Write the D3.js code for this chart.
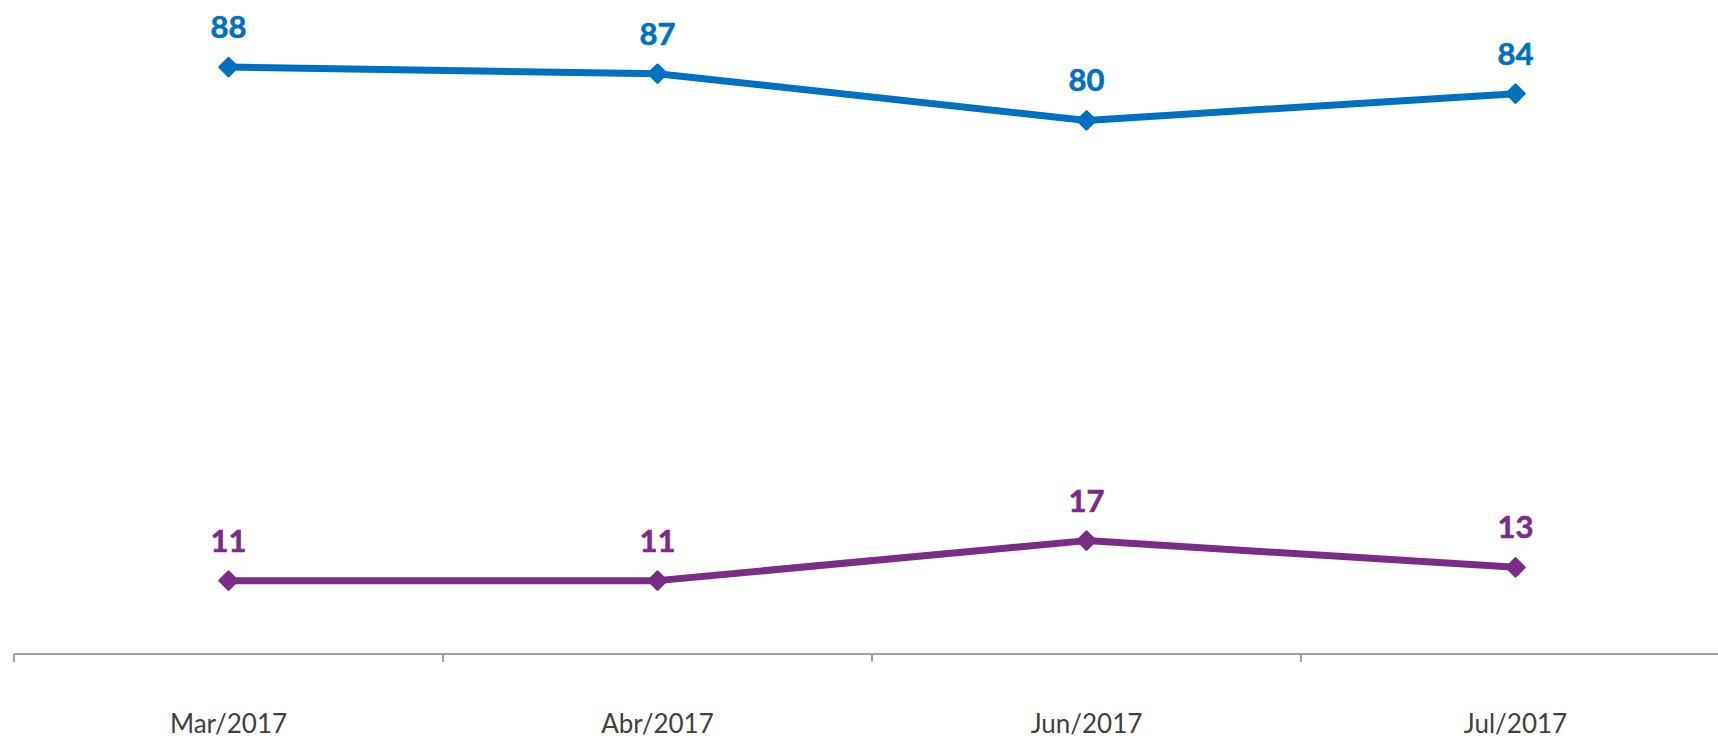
<!DOCTYPE html>
<html lang="pt">
<head>
<meta charset="utf-8">
<title>Chart</title>
<script src="https://cdn.jsdelivr.net/npm/d3@7"></script>
<style>
  html, body { margin: 0; padding: 0; background: #fff; }
  svg { display: block; }
</style>
</head>
<body>
<script>
var categories = ["Mar/2017", "Abr/2017", "Jun/2017", "Jul/2017"];
var seriesBlue = [88, 87, 80, 84];
var seriesPurple = [11, 11, 17, 13];

var W = 1718, H = 740;
var svg = d3.select("body").append("svg").attr("width", W).attr("height", H);

// band scale: 4 bands of ~429px starting at x=14 (axis runs past the right edge)
var x = d3.scaleBand().domain(categories).range([14, 14 + 4 * 429]).padding(0);
var y = d3.scaleLinear().domain([0, 100]).range([654, -13]);

var series = [
  {values: seriesBlue, color: "#0070C0"},
  {values: seriesPurple, color: "#7B2C86"}
];

// axis
var axis = svg.append("g").attr("transform", "translate(0," + y(0) + ")");
axis.append("line").attr("x1", 14).attr("x2", W).attr("y1", 0).attr("y2", 0)
  .attr("stroke", "#A0A0A0").attr("stroke-width", 2);
axis.selectAll("line.tick").data(categories).enter().append("line")
  .attr("class", "tick")
  .attr("x1", function (d) { return x(d); }).attr("x2", function (d) { return x(d); })
  .attr("y1", 0).attr("y2", 8)
  .attr("stroke", "#A0A0A0").attr("stroke-width", 2);
axis.selectAll("text").data(categories).enter().append("text")
  .attr("x", function (d) { return x(d) + x.bandwidth() / 2; })
  .attr("y", 79)
  .attr("text-anchor", "middle")
  .attr("font-family", "Lato, 'Open Sans', sans-serif")
  .attr("font-size", 26)
  .attr("fill", "#404040")
  .text(function (d) { return d; });

var line = d3.line()
  .x(function (d, i) { return x(categories[i]) + x.bandwidth() / 2; })
  .y(function (d) { return y(d); });

series.forEach(function (s) {
  var g = svg.append("g");
  g.append("path").datum(s.values)
    .attr("d", line)
    .attr("fill", "none")
    .attr("stroke", s.color)
    .attr("stroke-width", 7)
    .attr("stroke-linejoin", "round");
  g.selectAll("path.mk").data(s.values).enter().append("path")
    .attr("class", "mk")
    .attr("d", "M0,-9L9,0L0,9L-9,0Z")
    .attr("transform", function (d, i) {
      return "translate(" + (x(categories[i]) + x.bandwidth() / 2) + "," + y(d) + ")";
    })
    .attr("fill", s.color)
    .attr("stroke", s.color)
    .attr("stroke-width", 2.5)
    .attr("stroke-linejoin", "round");
  g.selectAll("text").data(s.values).enter().append("text")
    .attr("x", function (d, i) { return x(categories[i]) + x.bandwidth() / 2; })
    .attr("y", function (d) { return y(d) - 29; })
    .attr("text-anchor", "middle")
    .attr("font-family", "Lato, 'Open Sans', sans-serif")
    .attr("font-weight", "bold")
    .attr("font-size", 31)
    .attr("fill", s.color)
    .attr("stroke", s.color)
    .attr("stroke-width", 0.6)
    .text(function (d) { return d; });
});
</script>
</body>
</html>
